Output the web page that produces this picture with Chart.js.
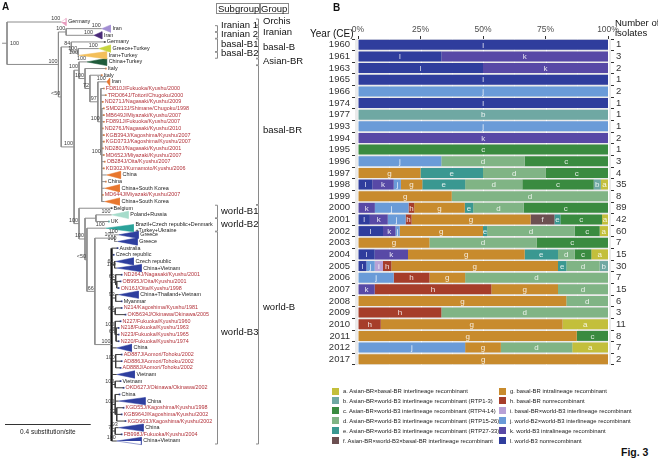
<!DOCTYPE html>
<html lang="en">
<head>
<meta charset="UTF-8">
<title>Fig. 3</title>
<script src="https://cdn.jsdelivr.net/npm/chart.js"></script>
<style>
    body { margin: 0; background: #fff; font-family: Arial, "Liberation Sans", sans-serif; }
    #page { position: relative; width: 658px; height: 470px; overflow: hidden; }
    canvas { position: absolute; top: 0; }
    .t { position: absolute; white-space: nowrap; color: #111; }
    .box { position: absolute; border: 1px solid #8a8a8a; font-size: 9.5px; line-height: 9px; padding: 0 1px; color: #111; }
    .leg { position: absolute; font-size: 5.9px; line-height: 8px; white-space: nowrap; color: #222; }
    .leg i { display: inline-block; width: 7px; height: 7px; vertical-align: -1.5px; margin-right: 4px; }
</style>
</head>
<body>
<div id="page">
    <canvas id="treeCanvas" width="330" height="470" style="left:0"></canvas>
    <canvas id="barCanvas" width="358" height="380" style="left:300px"></canvas>

    <div class="t" style="left:2px;top:1px;font-size:10px;font-weight:bold">A</div>
    <div class="t" style="left:333px;top:2px;font-size:10px;font-weight:bold">B</div>
    <div class="box" style="left:216px;top:3px">Subgroup</div>
    <div class="box" style="left:259px;top:3px">Group</div>
    <div class="t" style="left:310px;top:28px;font-size:10px">Year (CE)</div>
    <div class="t" style="left:615px;top:18px;font-size:9.5px;line-height:10px">Number of<br>isolates</div>
    <div class="t" style="left:621px;top:446px;font-size:10.5px;font-weight:bold">Fig. 3</div>
    <div id="legend"></div>
</div>

<script>
    // ---------- panel B: isolates per recombination type, per year ----------
    const years = ['1960', '1961', '1963', '1965', '1966', '1974', '1977', '1993', '1994', '1995',
        '1996', '1997', '1998', '1999', '2000', '2001', '2002', '2003', '2004', '2005',
        '2006', '2007', '2008', '2009', '2010', '2011', '2012', '2017'];

    const typeA = [0, 0, 0, 0, 0, 0, 0, 0, 0, 0, 0, 0, 1, 0, 0, 1, 2, 0, 1, 0, 0, 0, 0, 0, 2, 0, 1, 0];
    const typeB = [0, 0, 0, 0, 0, 0, 1, 0, 0, 0, 0, 0, 1, 0, 0, 0, 0, 0, 0, 1, 0, 0, 0, 0, 0, 0, 0, 0];
    const typeC = [0, 0, 0, 0, 0, 0, 0, 0, 0, 1, 1, 1, 10, 0, 30, 7, 6, 2, 1, 0, 0, 0, 0, 0, 0, 1, 0, 0];
    const typeD = [0, 0, 0, 0, 0, 0, 0, 0, 0, 0, 1, 1, 8, 5, 18, 0, 21, 3, 1, 4, 4, 3, 1, 2, 0, 0, 2, 0];
    const typeE = [0, 0, 0, 0, 0, 0, 0, 0, 0, 0, 0, 1, 6, 0, 3, 1, 1, 0, 2, 1, 0, 0, 0, 0, 0, 0, 0, 0];
    const typeF = [0, 0, 0, 0, 0, 0, 0, 0, 0, 0, 0, 0, 0, 0, 0, 4, 0, 0, 0, 0, 0, 0, 0, 0, 0, 0, 0, 0];
    const typeG = [0, 0, 0, 0, 0, 0, 0, 0, 0, 0, 0, 1, 3, 3, 18, 20, 20, 2, 7, 20, 1, 4, 5, 0, 8, 7, 1, 2];
    const typeH = [0, 0, 0, 0, 0, 0, 0, 0, 0, 0, 0, 0, 0, 0, 2, 1, 0, 0, 0, 1, 1, 7, 0, 1, 1, 0, 0, 0];
    const typeI = [0, 0, 0, 0, 0, 0, 0, 0, 0, 0, 0, 0, 0, 0, 0, 0, 0, 0, 0, 1, 0, 0, 0, 0, 0, 0, 0, 0];
    const typeJ = [0, 0, 0, 0, 2, 0, 0, 1, 0, 0, 1, 0, 1, 0, 12, 3, 1, 0, 0, 1, 1, 0, 0, 0, 0, 0, 3, 0];
    const typeK = [0, 2, 1, 0, 0, 0, 0, 0, 2, 0, 0, 0, 3, 0, 6, 3, 3, 0, 2, 0, 0, 1, 0, 0, 0, 0, 0, 0];
    const typeL = [1, 1, 1, 1, 0, 1, 0, 0, 0, 0, 0, 0, 2, 0, 0, 2, 6, 0, 1, 1, 0, 0, 0, 0, 0, 0, 0, 0];

    const percentTicks = [0, 25, 50, 75, 100];

    const legendText = [
        'a. Asian-BR×basal-BR interlineage recombinant',
        'b. Asian-BR×world-B3 interlineage recombinant (RTP1-3)',
        'c. Asian-BR×world-B3 interlineage recombinant (RTP4-14)',
        'd. Asian-BR×world-B3 interlineage recombinant (RTP15-26)',
        'e. Asian-BR×world-B3 interlineage recombinant (RTP27-33)',
        'f. Asian-BR×world-B3×basal-BR interlineage recombinant',
        'g. basal-BR intralineage recombinant',
        'h. basal-BR nonrecombinant',
        'i. basal-BR×world-B3 interlineage recombinant',
        'j. world-B2×world-B3 interlineage recombinant',
        'k. world-B3 intralineage recombinant',
        'l. world-B3 nonrecombinant'
    ];

    // ---------- panel A: tree (depths in substitutions/site) ----------
    const tipNames = ['Germany', 'Iran', 'Iran', 'Germany', 'Greece+Turkey', 'Iran+Turkey', 'China+Turkey', 'Italy', 'Italy', 'Iran',
        'FD810J/Fukuoka/Kyushu/2000', 'TRD064J/Tottori/Chugoku/2000', 'ND271J/Nagasaki/Kyushu/2009', 'SMD213J/Shimane/Chugoku/1998',
        'MB649J/Miyazaki/Kyushu/2007', 'FD891J/Fukuoka/Kyushu/2007', 'ND276J/Nagasaki/Kyushu/2010', 'KGB394J/Kagoshima/Kyushu/2007',
        'KGD373J/Kagoshima/Kyushu/2007', 'ND280J/Nagasaki/Kyushu/2001', 'MD652J/Miyazaki/Kyushu/2007', 'OB284J/Oita/Kyushu/2007',
        'KD302J/Kumamoto/Kyushu/2006',
        'China', 'China', 'China+South Korea', 'MD644J/Miyazaki/Kyushu/2007', 'China+South Korea',
        'Belgium', 'Poland+Russia', 'UK', 'Brazil+Czech republic+Denmark\n+Turkey+Ukraine', 'Greece', 'Greece', 'Australia',
        'Czech republic', 'Czech republic', 'China+Vietnam',
        'ND264J/Nagasaki/Kyushu/2001', 'OB995J/Oita/Kyushu/2001', 'ON16J/Oita/Kyushu/1998', 'China+Thailand+Vietnam', 'Myanmar',
        'N214/Kagoshima/Kyushu/1981', 'OKB634J/Okinawa/Okinawa/2005',
        'N227/Fukuoka/Kyushu/1960', 'N218/Fukuoka/Kyushu/1963', 'N223/Fukuoka/Kyushu/1965', 'N220/Fukuoka/Kyushu/1974', 'China',
        'AD887J/Aomori/Tohoku/2002', 'AD886J/Aomori/Tohoku/2002', 'AD888J/Aomori/Tohoku/2002', 'Vietnam', 'Vietnam',
        'OKD627J/Okinawa/Okinawa/2002',
        'China', 'China', 'KGD55J/Kagoshima/Kyushu/1998', 'KGB964J/Kagoshima/Kyushu/2002', 'KGD963J/Kagoshima/Kyushu/2002',
        'China', 'FB998J/Fukuoka/Kyushu/2004', 'China+Vietnam'];

    const tipParent = [0, 2, 2, 4, 5, 5, 7, 8, 9, 10,
        11, 11, 11, 12, 12, 12, 12, 12, 12, 12, 12, 12, 12,
        12, 12, 12, 12, 12,
        13, 15, 15, 16, 19, 19, 18, 18, 20, 20,
        21, 22, 22, 23, 23, 24, 24,
        25, 26, 26, 26, 18,
        27, 27, 27, 18, 28, 28,
        29, 29, 30, 30, 30, 31, 31, 18];

    const tipDepth = [0.253, 0.442, 0.406, 0.456, 0.428, 0.336, 0.373, 0.461, 0.442, 0.465,
        0.452, 0.461, 0.447, 0.452, 0.452, 0.452, 0.447, 0.452, 0.452, 0.447, 0.452, 0.456, 0.452,
        0.465, 0.461, 0.456, 0.447, 0.456,
        0.488, 0.488, 0.475, 0.461, 0.521, 0.516, 0.516, 0.498, 0.507, 0.512,
        0.535, 0.530, 0.521, 0.521, 0.535, 0.535, 0.553,
        0.530, 0.521, 0.521, 0.521, 0.512,
        0.535, 0.535, 0.530, 0.512, 0.530, 0.544,
        0.525, 0.521, 0.544, 0.535, 0.553, 0.521, 0.535, 0.512];

    // depth covered by a collapsed clade (0 = single isolate)
    const tipSpan = [0.023, 0.041, 0.037, 0, 0.055, 0.129, 0.092, 0, 0, 0.014,
        0, 0, 0, 0, 0, 0, 0, 0, 0, 0, 0, 0, 0,
        0.065, 0, 0.069, 0, 0.069,
        0, 0.078, 0, 0.129, 0.092, 0.092, 0, 0, 0.083, 0.115,
        0, 0, 0, 0.092, 0, 0, 0,
        0, 0, 0, 0, 0.069,
        0, 0, 0, 0.083, 0, 0,
        0, 0.124, 0, 0, 0, 0.115, 0, 0.115];

    const tipSupport = ['100', '100', '100', '', '100', '100', '100', '', '', '100',
        '', '', '', '', '', '', '', '', '', '', '', '', '',
        '', '', '', '', '',
        '', '100', '', '100', '100', '100', '', '', '', '100',
        '', '', '', '', '', '', '',
        '', '', '', '', '',
        '', '', '', '', '', '',
        '', '', '', '', '', '93', '', '100'];

    const nodeParent = [-1, 0, 1, 1, 3, 4, 3, 6, 7, 8, 9, 10, 11, 6, 13, 14, 14, 16, 17, 17,
        18, 18, 21, 18, 18, 18, 25, 18, 18, 18, 29, 18];
    const nodeDepth = [0, 0.240, 0.276, 0.253, 0.300, 0.332, 0.313, 0.336, 0.364, 0.387, 0.424, 0.438, 0.442,
        0.336, 0.364, 0.415, 0.373, 0.410, 0.488, 0.502,
        0.502, 0.507, 0.512, 0.507, 0.505, 0.505, 0.509, 0.507, 0.505, 0.505, 0.512, 0.505];
    const nodeSupport = ['100', '100', '100', '<50', '84', '100', '100', '100', '100', '72', '97', '100', '100',
        '100', '100', '', '<50', '66', '100', '100',
        '62', '63', '71', '93', '65', '100', '68', '100', '100', '100', '72', '71'];

    const subgroupNames = ['Iranian 1', 'Iranian 2', 'basal-B1', 'basal-B2', 'world-B1', 'world-B2', 'world-B3'];
    const subgroupFrom = [1, 2, 3, 5, 28, 30, 32];
    const subgroupTo = [1, 2, 4, 5, 29, 31, 63];
    const groupNames = ['Orchis', 'Iranian', 'basal-B', 'Asian-BR', 'basal-BR', 'world-B'];
    const groupFrom = [0, 1, 3, 6, 7, 28];
    const groupTo = [0, 2, 5, 6, 27, 63];

    // ---------- styles ----------
    const letterColors = {
        a: '#c3bf3b', b: '#6fa8a3', c: '#3a8b40', d: '#80b485', e: '#3a9891', f: '#6c4f51',
        g: '#c88b2d', h: '#a63d2a', i: '#b8a1d6', j: '#6a9bd8', k: '#5849a6', l: '#2f3d9d'
    };
    const cladeColors = { 0: '#e79bbd', 1: '#a28ed3', 2: '#4a2a79', 4: '#c6d43e', 5: '#f3bf5a', 6: '#1f5b3a', 29: '#a6dccb', 31: '#2ba29a' };
    const orange = '#e8772e', blue = '#2e3f9f', japanRed = '#b2323a';
    // nudges (px) so stacked bracket labels do not collide
    const subgroupShift = [-3.5, -1, -1, -2, 0, 0, -6];
    const groupShift = [-1, 0, -1.5, -1, -5, -17];

    // ================= panel A =================
    const nNodes = nodeParent.length;
    const childY = nodeParent.map(() => []);
    tipParent.forEach((p, i) => childY[p].push(i));
    const nodeY = [], nodeMin = [], nodeMax = [];
    for (let n = nNodes - 1; n >= 0; n--) {
        nodeMin[n] = Math.min(...childY[n]);
        nodeMax[n] = Math.max(...childY[n]);
        nodeY[n] = (nodeMin[n] + nodeMax[n]) / 2;
        if (nodeParent[n] >= 0) childY[nodeParent[n]].push(nodeY[n]);
    }

    function inWorldB3(n) {
        while (n >= 0) { if (n === 18) return true; n = nodeParent[n]; }
        return false;
    }

    const branchGray = [], branchDark = [], backbone = [];
    function seg(arr, x1, y1, x2, y2) {
        arr.push({ x: x1, y: y1 }, { x: x2, y: y2 }, { x: x2, y: NaN });
    }

    seg(branchGray, -0.023, nodeY[0], 0, nodeY[0]);
    seg(branchGray, 0, nodeMin[0], 0, nodeMax[0]);
    for (let n = 1; n < nNodes; n++) {
        const p = nodeParent[n];
        const arr = inWorldB3(p) ? branchDark : branchGray;
        seg(arr, nodeDepth[p], nodeY[n], nodeDepth[n], nodeY[n]);
        seg(n === 18 ? backbone : (inWorldB3(n) ? branchDark : branchGray), nodeDepth[n], nodeMin[n], nodeDepth[n], nodeMax[n]);
    }
    tipParent.forEach((p, i) => {
        seg(inWorldB3(p) ? branchDark : branchGray, nodeDepth[p], i, tipDepth[i], i);
    });

    const cladeColor = i => cladeColors[i] || (i >= 32 ? blue : orange);
    const triangleSets = [];
    const tipPoints = [], tipColors = [];
    tipNames.forEach((name, i) => {
        if (tipSpan[i] > 0) {
            const d = tipDepth[i], e = d + tipSpan[i];
            triangleSets.push({
                data: [{ x: d, y: i }, { x: e, y: i - 0.55 }, { x: e, y: i + 0.55 }, { x: d, y: i }],
                showLine: true, fill: 'shape', pointRadius: 0, borderWidth: 0.5,
                borderColor: cladeColor(i), backgroundColor: cladeColor(i), clip: false
            });
        } else {
            tipPoints.push({ x: tipDepth[i], y: i });
            let c = '#222';
            if (i >= 7 && i <= 27) c = orange;
            if (i >= 32) c = blue;
            if (i === 30) c = '#2ba29a';
            tipColors.push(c);
        }
    });

    const treeText = {
        id: 'treeText',
        afterDatasetsDraw(chart) {
            const { ctx, scales: { x, y } } = chart;
            ctx.save();

            // isolate / clade labels
            ctx.textBaseline = 'middle';
            ctx.textAlign = 'left';
            ctx.font = '5.4px Arial, "Liberation Sans"';
            tipNames.forEach((name, i) => {
                const px = x.getPixelForValue(tipDepth[i] + tipSpan[i]) + 2;
                const py = y.getPixelForValue(i);
                ctx.fillStyle = name.includes('/') ? japanRed : '#1a1a1a';
                const lines = name.split('\n');
                if (lines.length > 1) {
                    ctx.fillText(lines[0], px, py - 3.2);
                    ctx.fillText(lines[1], px, py + 2.8);
                } else {
                    ctx.fillText(name, px, py);
                }
            });

            // bootstrap values
            ctx.fillStyle = '#3a3a3a';
            ctx.textAlign = 'right';
            ctx.textBaseline = 'bottom';
            for (let n = 1; n < nNodes; n++) {
                if (!nodeSupport[n]) continue;
                ctx.fillText(nodeSupport[n], x.getPixelForValue(nodeDepth[n]) - 1, y.getPixelForValue(nodeY[n]) - 0.5);
            }
            tipSupport.forEach((s, i) => {
                if (s) ctx.fillText(s, x.getPixelForValue(tipDepth[i]) - 1, y.getPixelForValue(i) - 0.5);
            });
            ctx.textAlign = 'left';
            ctx.textBaseline = 'middle';
            ctx.fillText(nodeSupport[0], x.getPixelForValue(0) + 3, y.getPixelForValue(nodeY[0]));

            // subgroup / group brackets
            ctx.strokeStyle = '#8a8a8a';
            ctx.lineWidth = 1;
            function bracket(px, i0, i1) {
                const top = y.getPixelForValue(i0 - 0.45), bot = y.getPixelForValue(i1 + 0.45);
                ctx.beginPath();
                ctx.moveTo(px - 2.5, top); ctx.lineTo(px, top);
                ctx.lineTo(px, bot); ctx.lineTo(px - 2.5, bot);
                ctx.stroke();
            }
            ctx.font = '9.5px Arial, "Liberation Sans"';
            ctx.fillStyle = '#111';
            subgroupNames.forEach((g, k) => {
                bracket(217.5, subgroupFrom[k], subgroupTo[k]);
                ctx.fillText(g, 221, y.getPixelForValue((subgroupFrom[k] + subgroupTo[k]) / 2) + subgroupShift[k]);
            });
            groupNames.forEach((g, k) => {
                bracket(258.5, groupFrom[k], groupTo[k]);
                ctx.fillText(g, 263, y.getPixelForValue((groupFrom[k] + groupTo[k]) / 2) + groupShift[k]);
            });

            // scale bar
            const barLen = x.getPixelForValue(0.4) - x.getPixelForValue(0);
            ctx.strokeStyle = '#333';
            ctx.beginPath();
            ctx.moveTo(5, 424.5); ctx.lineTo(5 + barLen, 424.5);
            ctx.stroke();
            ctx.font = '6.5px Arial, "Liberation Sans"';
            ctx.textAlign = 'center';
            ctx.fillStyle = '#222';
            ctx.fillText('0.4 substitution/site', 5 + barLen / 2, 432);
            ctx.restore();
        }
    };

    new Chart(document.getElementById('treeCanvas'), {
        type: 'scatter',
        data: {
            datasets: [
                { data: branchGray, showLine: true, borderColor: '#8c8c8c', borderWidth: 1, pointRadius: 0, clip: false },
                { data: branchDark, showLine: true, borderColor: '#3c3c3c', borderWidth: 1, pointRadius: 0, clip: false },
                { data: backbone, showLine: true, borderColor: '#111', borderWidth: 2.2, pointRadius: 0, clip: false },
                ...triangleSets,
                {
                    data: tipPoints, showLine: false, pointStyle: 'rect', pointRadius: 1.2,
                    pointBackgroundColor: tipColors, pointBorderWidth: 0, clip: false
                }
            ]
        },
        options: {
            responsive: false,
            animation: false,
            events: [],
            layout: { padding: { left: 7, right: 0, top: 22, bottom: 29 } },
            scales: {
                x: { type: 'linear', display: false, min: 0, max: 323 / 217 },
                y: { type: 'linear', display: false, min: 0, max: tipNames.length - 1, reverse: true }
            },
            plugins: { legend: { display: false }, tooltip: { enabled: false } }
        },
        plugins: [treeText]
    });

    // ================= panel B =================
    const typeCounts = { a: typeA, b: typeB, c: typeC, d: typeD, e: typeE, f: typeF, g: typeG, h: typeH, i: typeI, j: typeJ, k: typeK, l: typeL };
    const stackOrder = ['l', 'k', 'j', 'i', 'h', 'g', 'f', 'e', 'd', 'c', 'b', 'a'];
    const totals = years.map((_, i) => stackOrder.reduce((s, L) => s + typeCounts[L][i], 0));

    const barSets = stackOrder.map(L => ({
        label: L,
        data: typeCounts[L].map((v, i) => v / totals[i] * 100),
        backgroundColor: letterColors[L],
        borderWidth: 0,
        barPercentage: 0.86,
        categoryPercentage: 1
    }));

    const panelBg = {
        id: 'panelBg',
        beforeDatasetsDraw(chart) {
            const { ctx, chartArea: a, scales: { x } } = chart;
            ctx.save();
            ctx.fillStyle = '#ebebeb';
            ctx.fillRect(a.left, a.top, a.right - a.left, a.bottom - a.top);
            ctx.strokeStyle = '#ffffff';
            for (let v = 0; v <= 100; v += 12.5) {
                ctx.lineWidth = v % 25 === 0 ? 1 : 0.5;
                const px = Math.round(x.getPixelForValue(v)) + 0.5;
                ctx.beginPath(); ctx.moveTo(px, a.top); ctx.lineTo(px, a.bottom); ctx.stroke();
            }
            ctx.restore();
        }
    };

    const segLetters = {
        id: 'segLetters',
        afterDatasetsDraw(chart) {
            const { ctx } = chart;
            ctx.save();
            ctx.font = '8px Arial, "Liberation Sans"';
            ctx.fillStyle = 'rgba(255,255,255,0.85)';
            ctx.textAlign = 'center';
            ctx.textBaseline = 'middle';
            chart.data.datasets.forEach((ds, di) => {
                chart.getDatasetMeta(di).data.forEach((el, i) => {
                    if (!ds.data[i]) return;
                    ctx.fillText(ds.label, (el.x + el.base) / 2, el.y + 0.5);
                });
            });
            ctx.restore();
        }
    };

    const axisTicks = { display: true, drawOnChartArea: false, drawTicks: true, tickLength: 3, color: '#333' };

    new Chart(document.getElementById('barCanvas'), {
        type: 'bar',
        data: { labels: years, datasets: barSets },
        options: {
            indexAxis: 'y',
            responsive: false,
            animation: false,
            events: [],
            layout: { padding: { left: 0, right: 0, top: 0, bottom: 15 } },
            scales: {
                x: {
                    type: 'linear', position: 'top', stacked: true, min: -1.2, max: 101.2,
                    afterBuildTicks: s => { s.ticks = percentTicks.map(v => ({ value: v })); },
                    afterFit: s => { s.height = 39; },
                    grid: axisTicks,
                    border: { display: false },
                    ticks: { color: '#4d4d4d', font: { size: 8.5 }, padding: 1, callback: v => v + '%' }
                },
                y: {
                    type: 'category', stacked: true,
                    afterFit: s => { s.width = 55; },
                    grid: axisTicks,
                    border: { display: false },
                    ticks: { color: '#333', font: { size: 9.5 }, padding: 2, autoSkip: false }
                },
                y2: {
                    type: 'category', position: 'right', offset: true,
                    labels: totals.map(String),
                    afterFit: s => { s.width = 47; },
                    grid: axisTicks,
                    border: { display: false },
                    ticks: { color: '#333', font: { size: 9.5 }, padding: 2, autoSkip: false }
                }
            },
            plugins: { legend: { display: false }, tooltip: { enabled: false } }
        },
        plugins: [panelBg, segLetters]
    });

    // legend (two columns, a–f and g–l)
    const legendBox = document.getElementById('legend');
    legendText.forEach((txt, k) => {
        const col = k < 6 ? 0 : 1;
        const row = k % 6;
        const div = document.createElement('div');
        div.className = 'leg';
        div.style.left = (col ? 499 : 332) + 'px';
        div.style.top = (387 + row * 9.9) + 'px';
        div.innerHTML = '<i style="background:' + letterColors[txt[0]] + '"></i>' + txt;
        legendBox.appendChild(div);
    });
</script>
</body>
</html>
